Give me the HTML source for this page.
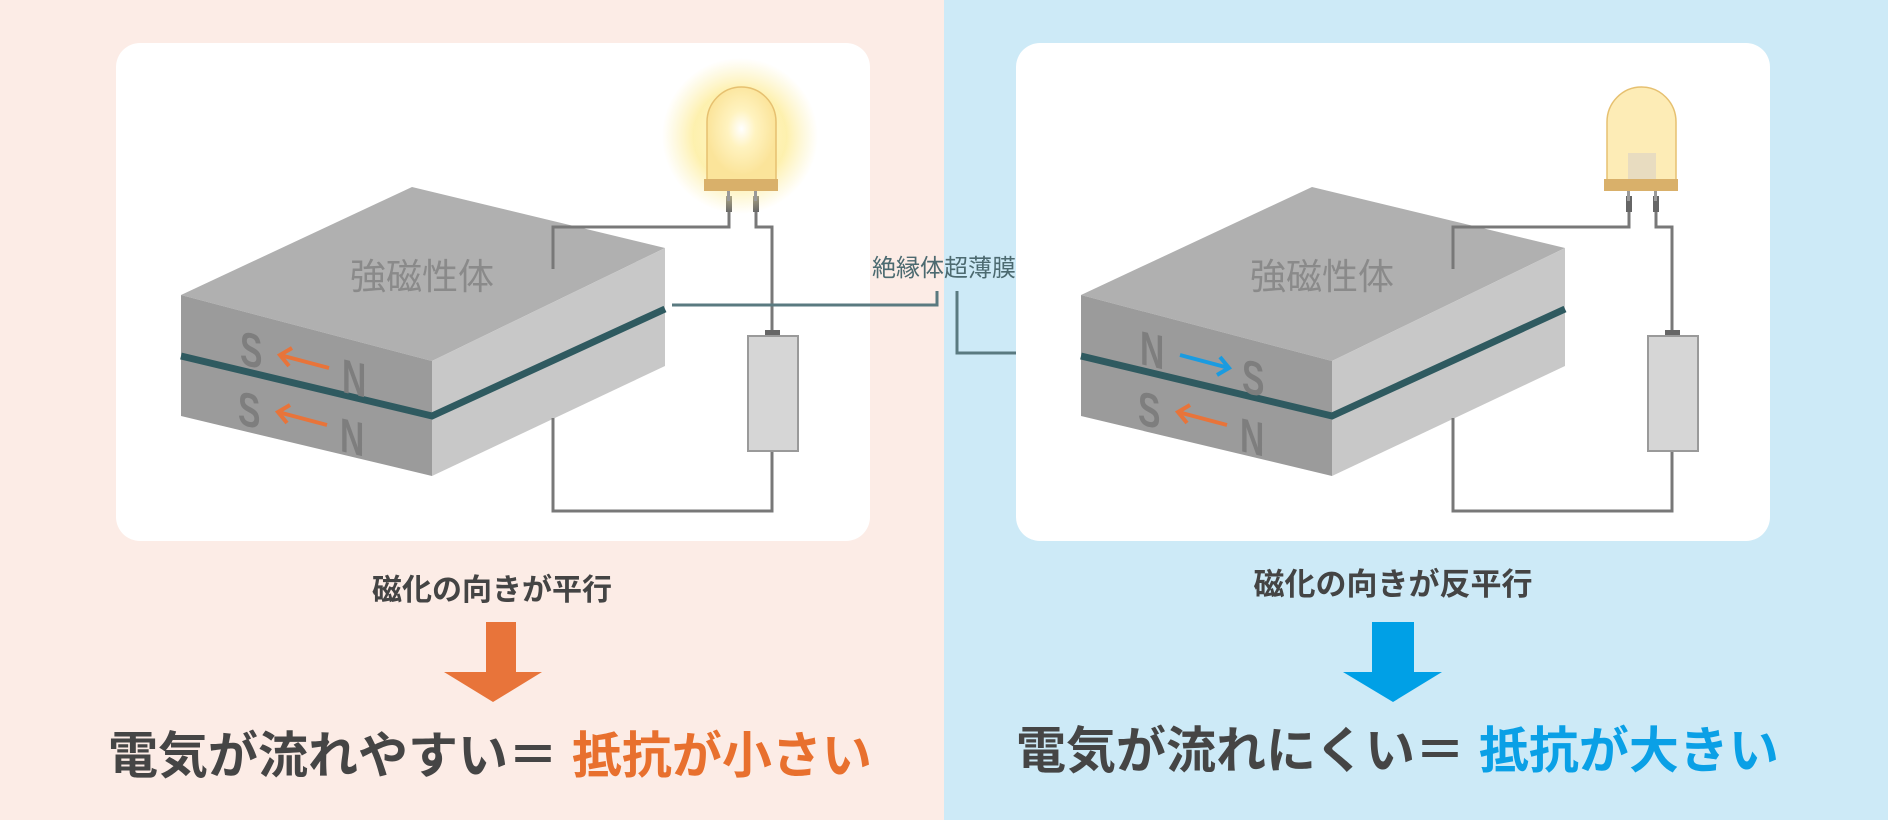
<!DOCTYPE html>
<html><head><meta charset="utf-8"><style>
html,body{margin:0;padding:0;width:1888px;height:820px;overflow:hidden;}
svg{display:block}
text{font-family:"Liberation Sans","Noto Sans CJK JP",sans-serif;}
</style></head><body>
<svg width="1888" height="820" viewBox="0 0 1888 820" xmlns="http://www.w3.org/2000/svg">
<defs>
<radialGradient id="glow" cx="0.5" cy="0.5" r="0.5">
<stop offset="0" stop-color="#fff8d0" stop-opacity="1"/>
<stop offset="0.6" stop-color="#fdeea0" stop-opacity="0.85"/>
<stop offset="1" stop-color="#fdf0b0" stop-opacity="0"/>
</radialGradient>
<radialGradient id="core" cx="0.5" cy="0.45" r="0.5">
<stop offset="0" stop-color="#ffffff"/>
<stop offset="0.4" stop-color="#fff3c0"/>
<stop offset="1" stop-color="#fbe49a"/>
</radialGradient>
</defs>
<rect x="0" y="0" width="944" height="820" fill="#fcece6"/>
<rect x="944" y="0" width="944" height="820" fill="#cdeaf7"/>

<!-- LEFT PANEL -->
<rect x="116" y="43" width="754" height="498" rx="24" fill="#ffffff"/>
<polygon points="181,295 412,187 665,248 432,361" fill="#b0b0b0"/>
<polygon points="181,295 432,361 432,476 181,416" fill="#9b9b9b"/>
<polygon points="432,361 665,248 665,366 432,476" fill="#c8c8c8"/>
<polyline points="181,356 432,416 665,309" fill="none" stroke="#2f5a60" stroke-width="7"/>
<text x="422" y="289" font-size="36" fill="#8a8a8a" text-anchor="middle">強磁性体</text>
<g fill="#7e7e7e" font-size="48" font-weight="bold">
<text transform="translate(240,364) skewY(13) scale(0.7,1)">S</text>
<text transform="translate(342,392) skewY(13) scale(0.7,1)">N</text>
<text transform="translate(238,424) skewY(13) scale(0.7,1)">S</text>
<text transform="translate(340,451) skewY(13) scale(0.7,1)">N</text>
</g>
<g stroke="#e8743a" stroke-width="4" fill="none">
<path d="M329,368 L280,355 M292,348 L280,355 L289,366"/>
<path d="M327,425 L278,412 M290,405 L278,412 L287,423"/>
</g>
<g fill="none" stroke="#787878" stroke-width="3">
<polyline points="553,269 553,227 729,227 729,209"/>
<polyline points="756,209 756,227 772,227 772,330"/>
<polyline points="772,451 772,511 553,511 553,418"/>
</g>
<rect x="726" y="196" width="6" height="16" fill="#666"/>
<rect x="753" y="196" width="6" height="16" fill="#666"/>
<rect x="765" y="330" width="15" height="7" fill="#666"/>
<rect x="748" y="336" width="50" height="115" fill="#d6d6d6" stroke="#9a9a9a" stroke-width="2"/>
<circle cx="740" cy="136" r="78" fill="url(#glow)"/>
<path d="M707,180 L707,122 A34.5,35 0 0 1 776,122 L776,180 Z" fill="url(#core)" stroke="#e6c070" stroke-width="1.5"/>
<rect x="704" y="179" width="74" height="12" fill="#d9b06a"/>
<rect x="727" y="191" width="3" height="10" fill="#999"/>
<rect x="754" y="191" width="3" height="10" fill="#999"/>

<text x="944" y="276" font-size="24" fill="#4c6a70" text-anchor="middle">絶縁体超薄膜</text>
<polyline points="672,305 937,305 937,291" fill="none" stroke="#5a7a80" stroke-width="3"/>
<polyline points="957,291 957,353 1075,353" fill="none" stroke="#5a7a80" stroke-width="3"/>

<text x="492" y="600" font-size="30" font-weight="bold" fill="#444" text-anchor="middle">磁化の向きが平行</text>
<polygon points="486,622 516,622 516,672 542,672 493,702 444,672 486,672" fill="#e8743a"/>
<text x="108" y="773" font-size="50" font-weight="bold" fill="#454545">電気が流れやすい＝ <tspan fill="#e8702e">抵抗が小さい</tspan></text>

<!-- RIGHT PANEL -->
<g transform="translate(900,0)">
<rect x="116" y="43" width="754" height="498" rx="24" fill="#ffffff"/>
<polygon points="181,295 412,187 665,248 432,361" fill="#b0b0b0"/>
<polygon points="181,295 432,361 432,476 181,416" fill="#9b9b9b"/>
<polygon points="432,361 665,248 665,366 432,476" fill="#c8c8c8"/>
<polyline points="181,356 432,416 665,309" fill="none" stroke="#2f5a60" stroke-width="7"/>
<text x="422" y="289" font-size="36" fill="#8a8a8a" text-anchor="middle">強磁性体</text>
<g fill="#7e7e7e" font-size="48" font-weight="bold">
<text transform="translate(240,364) skewY(13) scale(0.7,1)">N</text>
<text transform="translate(342,392) skewY(13) scale(0.7,1)">S</text>
<text transform="translate(238,424) skewY(13) scale(0.7,1)">S</text>
<text transform="translate(340,451) skewY(13) scale(0.7,1)">N</text>
</g>
<path d="M280,355 L329,368 M317,375 L329,368 L320,357" stroke="#1a9be0" stroke-width="4" fill="none"/>
<path d="M327,425 L278,412 M290,405 L278,412 L287,423" stroke="#e8743a" stroke-width="4" fill="none"/>
<g fill="none" stroke="#787878" stroke-width="3">
<polyline points="553,269 553,227 729,227 729,209"/>
<polyline points="756,209 756,227 772,227 772,330"/>
<polyline points="772,451 772,511 553,511 553,418"/>
</g>
<rect x="726" y="196" width="6" height="16" fill="#666"/>
<rect x="753" y="196" width="6" height="16" fill="#666"/>
<rect x="765" y="330" width="15" height="7" fill="#666"/>
<rect x="748" y="336" width="50" height="115" fill="#d6d6d6" stroke="#9a9a9a" stroke-width="2"/>
<path d="M707,180 L707,122 A34.5,35 0 0 1 776,122 L776,180 Z" fill="#fdecb6" stroke="#e6c070" stroke-width="1.5"/>
<rect x="728" y="153" width="28" height="27" fill="#e8dcc0"/>
<rect x="704" y="179" width="74" height="12" fill="#d9b06a"/>
<rect x="727" y="191" width="3" height="10" fill="#999"/>
<rect x="754" y="191" width="3" height="10" fill="#999"/>
</g>

<text x="1393" y="595" font-size="31" font-weight="bold" fill="#444" text-anchor="middle">磁化の向きが反平行</text>
<polygon points="1372,622 1414,622 1414,672 1442,672 1393,702 1343,672 1372,672" fill="#00a0e6"/>
<text x="1016" y="768" font-size="50" font-weight="bold" fill="#454545">電気が流れにくい＝ <tspan fill="#0aa0e6">抵抗が大きい</tspan></text>
</svg>
</body></html>
